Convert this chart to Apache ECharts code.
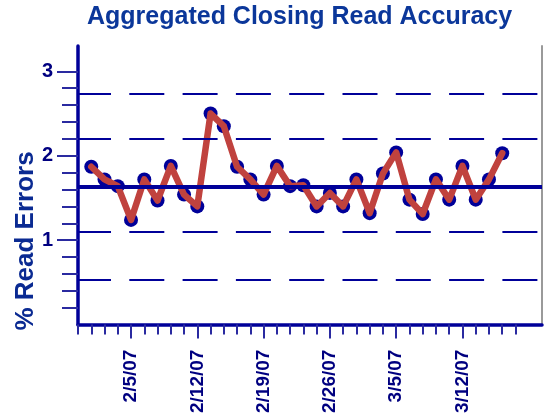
<!DOCTYPE html>
<html>
<head>
<meta charset="utf-8">
<script src="https://cdn.jsdelivr.net/npm/echarts@6/dist/echarts.min.js"></script>
<style>
html,body{margin:0;padding:0;background:#fff;}
#chart{width:544px;height:416px;}
</style>
</head>
<body>
<div id="chart"></div>
<script>
// Business-day categories on the x axis
var categories = [
  '1/30/07','1/31/07','2/1/07','2/2/07',
  '2/5/07','2/6/07','2/7/07','2/8/07','2/9/07',
  '2/12/07','2/13/07','2/14/07','2/15/07','2/16/07',
  '2/19/07','2/20/07','2/21/07','2/22/07','2/23/07',
  '2/26/07','2/27/07','2/28/07','3/1/07','3/2/07',
  '3/5/07','3/6/07','3/7/07','3/8/07','3/9/07',
  '3/12/07','3/13/07','3/14/07','3/15/07','3/16/07',
  '3/19/07','3/20/07'
];
// Dates that carry a reading
var readingDates = categories.slice(1, 33);
// % read errors for each reading date
var readErrors = [
  1.87, 1.72, 1.64, 1.24, 1.72, 1.47, 1.88, 1.54, 1.40, 2.50,
  2.35, 1.87, 1.72, 1.54, 1.88, 1.64, 1.65, 1.40, 1.56, 1.40,
  1.72, 1.32, 1.79, 2.04, 1.48, 1.31, 1.72, 1.48, 1.88, 1.48,
  1.72, 2.03
];
// Control lines
var centerLine = 1.63;
var limitLines = [0.53, 1.10, 2.20, 2.74];
// Tick labels
var labelDates = ['2/5/07','2/12/07','2/19/07','2/26/07','3/5/07','3/12/07'];
var yMajorTicks = [1, 2, 3];
var yMinorTicks = [];
for (var t = 2; t <= 28; t += 2) { if (t % 10 !== 0) yMinorTicks.push(t / 10); }
var lastTickDate = '3/16/07';

var navy = '#000099';
var tickColor = '#2a2aa0';
var labelColor = '#000080';
var font = 'Liberation Sans, Arial, sans-serif';

var seriesData = readingDates.map(function (d, i) { return [d, readErrors[i]]; });
var lastTickIdx = categories.indexOf(lastTickDate);

var chart = echarts.init(document.getElementById('chart'), null, {renderer: 'canvas'});
chart.setOption({
  animation: false,
  backgroundColor: '#ffffff',
  title: {
    text: 'Aggregated Closing Read Accuracy',
    left: 87, top: 5, padding: 0,
    textStyle: {fontFamily: font, fontSize: 25, fontWeight: 'bold', color: '#0b379a'}
  },
  grid: {left: 78, right: 2, top: 46, bottom: 90, containLabel: false},
  graphic: [{
    type: 'text',
    x: 26, y: 241,
    rotation: Math.PI / 2,
    style: {
      text: '% Read Errors',
      fontFamily: font, fontSize: 26, fontWeight: 'bold',
      fill: '#0a2a92', align: 'center', verticalAlign: 'middle'
    }
  }],
  xAxis: [{
    type: 'category', data: categories, boundaryGap: false, position: 'bottom',
    axisLine: {show: true, lineStyle: {color: navy, width: 3.5}},
    axisTick: {show: true, length: 10, lineStyle: {color: tickColor, width: 2},
      interval: function (idx) { return idx <= lastTickIdx; }},
    axisLabel: {show: false},
    splitLine: {show: false}
  }, {
    type: 'category', data: categories, boundaryGap: false, position: 'bottom',
    axisLine: {show: false},
    axisTick: {show: true, length: 14, lineStyle: {color: tickColor, width: 2},
      interval: function (idx, val) { return labelDates.indexOf(val) >= 0; }},
    axisLabel: {
      show: true, rotate: 90, margin: 25,
      interval: function (idx, val) { return labelDates.indexOf(val) >= 0; },
      fontFamily: font, fontSize: 19, fontWeight: 'bold', color: labelColor
    },
    splitLine: {show: false}
  }],
  yAxis: [{
    type: 'value', min: 0, max: 3.3, position: 'left',
    axisLine: {show: true, lineStyle: {color: navy, width: 3.5}},
    axisTick: {show: true, length: 21, customValues: yMajorTicks, lineStyle: {color: tickColor, width: 2}},
    axisLabel: {show: true, customValues: yMajorTicks, margin: 25,
      fontFamily: font, fontSize: 20, fontWeight: 'bold', color: labelColor},
    splitLine: {show: false}
  }, {
    type: 'value', min: 0, max: 3.3, position: 'left',
    axisLine: {show: false},
    axisTick: {show: true, length: 16, customValues: yMinorTicks, lineStyle: {color: tickColor, width: 2}},
    axisLabel: {show: false},
    splitLine: {show: false}
  }, {
    type: 'value', min: 0, max: 3.3, position: 'right',
    axisLine: {show: true, lineStyle: {color: '#9a9a9a', width: 2}},
    axisTick: {show: false}, axisLabel: {show: false}, splitLine: {show: false}
  }],
  series: [{
    type: 'scatter',
    xAxisIndex: 0, yAxisIndex: 0,
    data: seriesData,
    symbol: 'circle', symbolSize: 14,
    itemStyle: {color: navy, opacity: 1},
    z: 2,
    markLine: {
      silent: true, symbol: ['none', 'none'], label: {show: false},
      data: limitLines.map(function (v) {
        return {yAxis: v, lineStyle: {color: navy, width: 2.2, type: [35, 18.3], dashOffset: 2, opacity: 1}};
      }).concat([{yAxis: centerLine, lineStyle: {color: navy, width: 4, type: 'solid', opacity: 1}}])
    }
  }, {
    type: 'line',
    xAxisIndex: 0, yAxisIndex: 0,
    data: seriesData,
    showSymbol: false, symbol: 'none',
    lineStyle: {color: '#c0423e', width: 6.5, cap: 'round', join: 'round'},
    z: 3
  }]
});
</script>
</body>
</html>
